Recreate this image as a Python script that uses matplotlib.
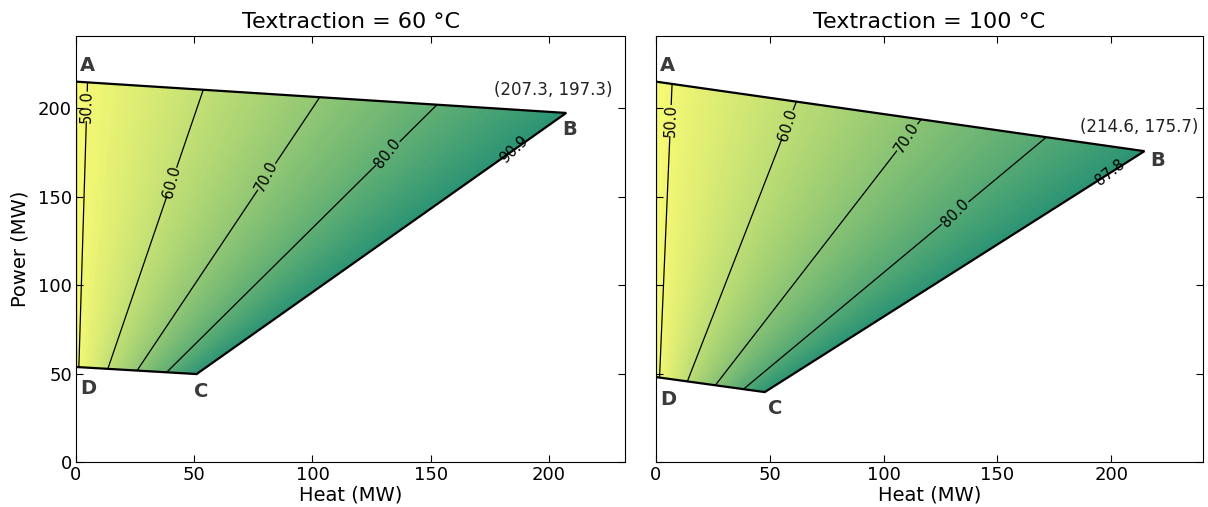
import numpy as np
import matplotlib
matplotlib.use("Agg")
import matplotlib.pyplot as plt
from matplotlib.patches import Polygon
from matplotlib.colors import ListedColormap

# Operating region corners (Heat MW, Power MW) for each extraction temperature
titles = ["Textraction = 60 °C", "Textraction = 100 °C"]
corner_names = ["A", "B", "C", "D"]
heat_60 = [0.0, 207.3, 51.0, 0.0]
power_60 = [215.0, 197.3, 49.7, 53.7]
heat_100 = [0.0, 214.6, 47.8, 0.0]
power_100 = [215.0, 175.7, 39.5, 48.0]

# Fuel input model: fuel = power / el_eff + heat * heat_fuel_factor
el_eff = [0.490, 0.487]
heat_fuel_factor = [0.204, 0.390]

# Contour levels (total efficiency, %) and label positions (Heat, Power)
levels_60 = [50.0, 60.0, 70.0, 80.0, 90.9]
levels_100 = [50.0, 60.0, 70.0, 80.0, 87.8]
label_pos_60 = [(5, 201), (38, 159), (83, 160), (135, 172), (182, 180)]
label_pos_100 = [(6, 193), (59, 190), (105, 187), (133, 139), (200, 163)]

panels = [
    (heat_60, power_60, levels_60, label_pos_60),
    (heat_100, power_100, levels_100, label_pos_100),
]

# Annotation offsets in points for the corner letters and the B coordinates
name_offsets = [
    {"A": (3, 5), "B": (-3, -5), "C": (-2, -6), "D": (3, -9)},
    {"A": (3, 5), "B": (4, 0), "C": (2, -5), "D": (3, -9)},
]
coord_offsets = [(-9, 10), (-4, 11)]

# Softened summer colormap (reversed: yellow = low, green = high)
base = plt.get_cmap("summer_r")(np.linspace(0, 1, 256))
soft = base.copy()
soft[:, :3] = 0.86 * base[:, :3] + 0.14 * np.array([0.93, 0.93, 0.80])
cmap = ListedColormap(soft)

fig = plt.figure(figsize=(12.08, 5.07), dpi=100)
ax_rects = [[0.0629, 0.0888, 0.4545, 0.8402], [0.5430, 0.0888, 0.4529, 0.8402]]

for i, (hq, pw, lev, lpos) in enumerate(panels):
    ax = fig.add_axes(ax_rects[i])
    hq = np.array(hq)
    pw = np.array(pw)
    xmax = 1.12 * hq.max()
    ymax = 1.12 * pw.max()

    Q, P = np.meshgrid(np.linspace(0, hq.max(), 500),
                       np.linspace(pw.min(), pw.max(), 500))
    fuel = P / el_eff[i] + Q * heat_fuel_factor[i]
    eta = 100.0 * (P + Q) / fuel

    # efficiency range inside the region
    corner_eta = 100.0 * (pw + hq) / (pw / el_eff[i] + hq * heat_fuel_factor[i])
    vmin, vmax = corner_eta.min(), corner_eta.max()

    poly = Polygon(np.column_stack([hq, pw]), closed=True, facecolor="none",
                   edgecolor="black", linewidth=1.6, zorder=5)
    ax.add_patch(poly)

    cf = ax.contourf(Q, P, eta, levels=np.linspace(vmin, vmax, 100),
                     cmap=cmap, extend="both",
                     vmin=vmin - 1.0, vmax=vmax + 2.0)
    cf.set_clip_path(poly)

    cs = ax.contour(Q, P, eta, levels=lev, colors="black", linewidths=0.9)
    cs.set_clip_path(poly)
    ax.clabel(cs, fmt="%.1f", fontsize=10.5, inline=True, manual=lpos)

    for name, x, y in zip(corner_names, hq, pw):
        dx, dy = name_offsets[i][name]
        ax.annotate(name, (x, y), xytext=(dx, dy), textcoords="offset points",
                    ha="left", va="bottom" if name == "A" else "top",
                    fontsize=14, fontweight="bold", color="#3a3a3a")
    ax.annotate(f"({hq[1]:.1f}, {pw[1]:.1f})", (hq[1], pw[1]),
                xytext=coord_offsets[i], textcoords="offset points",
                ha="center", va="bottom", fontsize=12, color="#222222")

    ax.set_xlim(0, xmax)
    ax.set_ylim(0, ymax)
    ax.set_xticks([0, 50, 100, 150, 200])
    ax.set_yticks([0, 50, 100, 150, 200])
    ax.tick_params(direction="in", top=True, right=True, length=5,
                   labelsize=13, pad=3)
    ax.set_title(titles[i], fontsize=16, pad=6)
    ax.set_xlabel("Heat (MW)", fontsize=14, labelpad=1)
    if i == 0:
        ax.set_ylabel("Power (MW)", fontsize=14, labelpad=6)
    else:
        ax.set_yticklabels([])

fig.savefig("out.png", dpi=100)
